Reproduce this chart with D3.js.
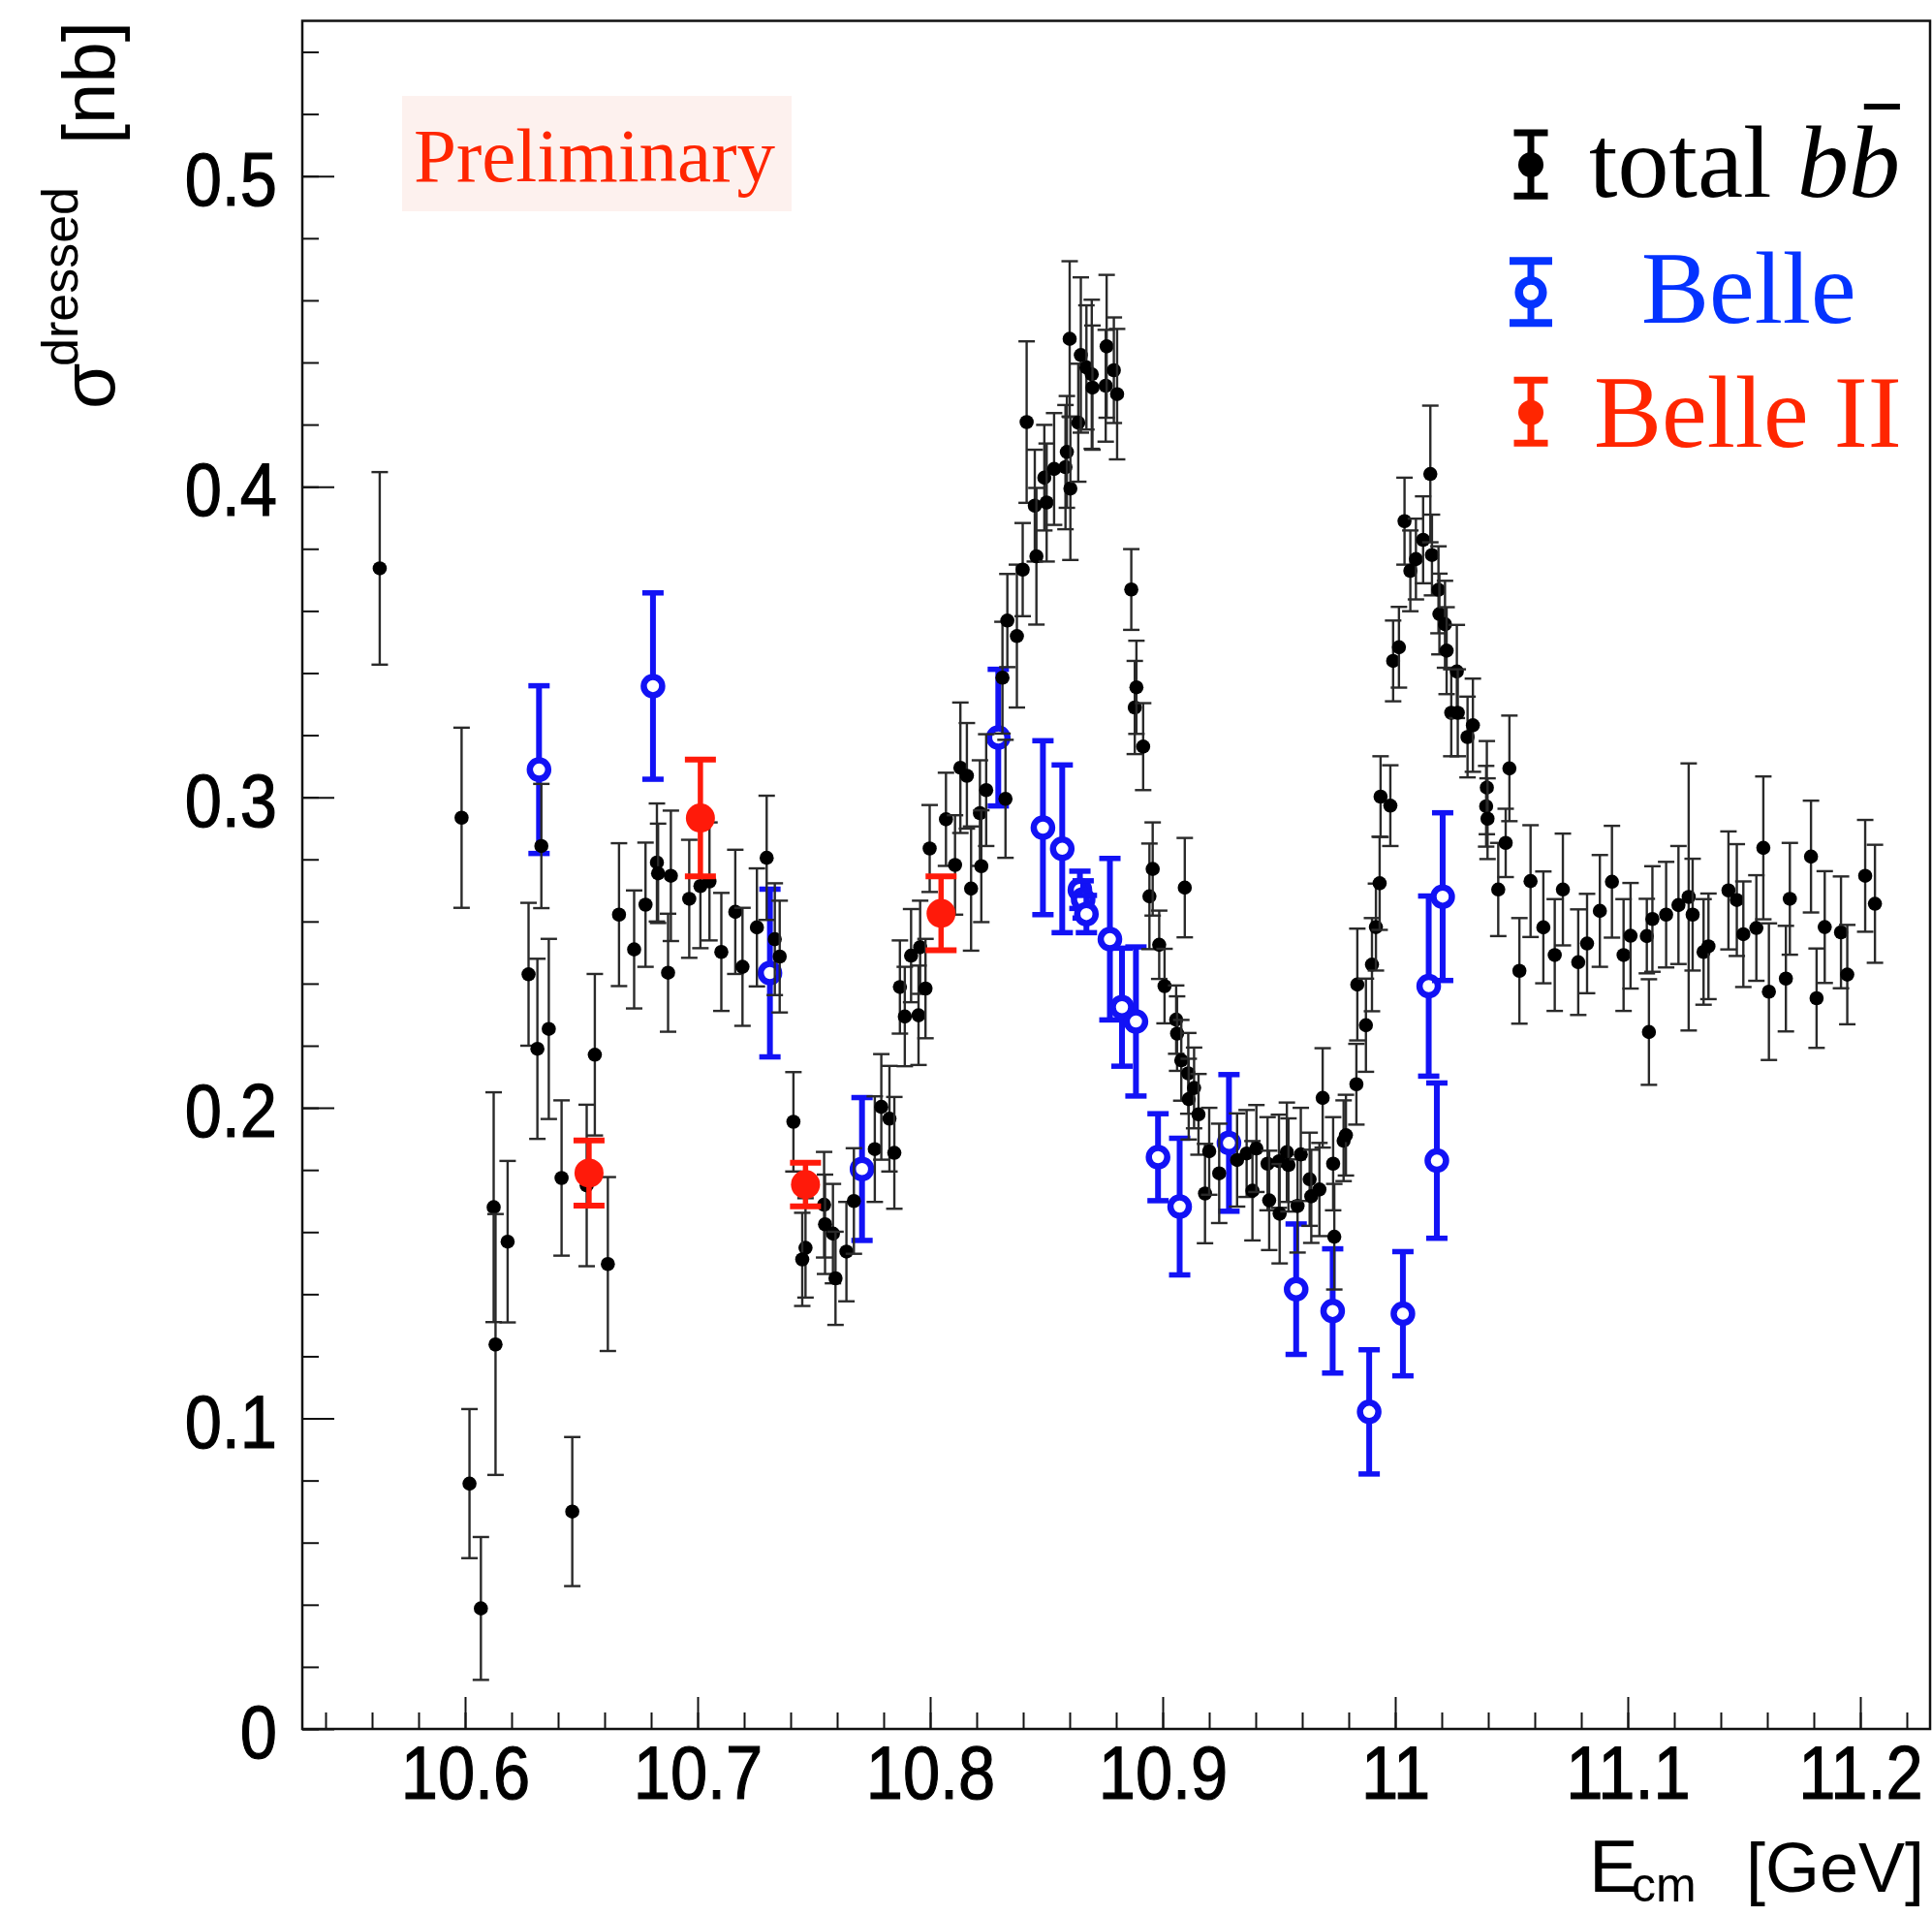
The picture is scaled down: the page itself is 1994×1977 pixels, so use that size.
<!DOCTYPE html>
<html>
<head>
<meta charset="utf-8">
<script src="https://cdn.jsdelivr.net/npm/d3@7"></script>
<style>
  html, body { margin: 0; padding: 0; background: #fff; }
  svg { display: block; }
</style>
</head>
<body>
<svg id="chart" width="1994" height="1977"></svg>
<script>
// [E_cm (GeV), sigma dressed (nb), error (nb)]
const totalBB = [
  [10.5633, 0.3737, 0.031], [10.5985, 0.2934, 0.029], [10.6019, 0.0790, 0.024], [10.6068, 0.0388, 0.023],
  [10.6123, 0.1680, 0.037], [10.6131, 0.1238, 0.042], [10.6183, 0.1569, 0.026], [10.6273, 0.2430, 0.023],
  [10.6311, 0.2190, 0.029], [10.6328, 0.2843, 0.020], [10.6360, 0.2254, 0.029], [10.6415, 0.1774, 0.025],
  [10.6461, 0.0700, 0.024], [10.6523, 0.1750, 0.026], [10.6558, 0.2171, 0.026], [10.6614, 0.1497, 0.028],
  [10.6662, 0.2622, 0.023], [10.6727, 0.2510, 0.019], [10.6776, 0.2654, 0.020], [10.6825, 0.2790, 0.019],
  [10.6830, 0.2755, 0.016], [10.6873, 0.2435, 0.019], [10.6885, 0.2747, 0.021], [10.6964, 0.2673, 0.019],
  [10.7012, 0.2714, 0.020], [10.7051, 0.2729, 0.019], [10.7102, 0.2502, 0.019], [10.7162, 0.2631, 0.020],
  [10.7193, 0.2454, 0.019], [10.7255, 0.2581, 0.019], [10.7297, 0.2805, 0.020], [10.7332, 0.2543, 0.018],
  [10.7353, 0.2487, 0.018], [10.7412, 0.1955, 0.016], [10.7464, 0.1549, 0.016], [10.7450, 0.1512, 0.015],
  [10.7544, 0.1688, 0.017], [10.7548, 0.1625, 0.016], [10.7582, 0.1595, 0.016], [10.7593, 0.1451, 0.015],
  [10.7640, 0.1537, 0.016], [10.7672, 0.1700, 0.017], [10.7762, 0.1867, 0.017], [10.7790, 0.2003, 0.017],
  [10.7825, 0.1965, 0.017], [10.7846, 0.1855, 0.018], [10.7870, 0.2389, 0.015], [10.7891, 0.2294, 0.016],
  [10.7918, 0.2490, 0.015], [10.7950, 0.2298, 0.016], [10.7957, 0.2517, 0.015], [10.7980, 0.2384, 0.016],
  [10.7998, 0.2835, 0.014], [10.8068, 0.2929, 0.015], [10.8107, 0.2782, 0.016], [10.8130, 0.3095, 0.021],
  [10.8158, 0.3069, 0.017], [10.8176, 0.2706, 0.020], [10.8214, 0.2949, 0.017], [10.8220, 0.2778, 0.018],
  [10.8241, 0.3023, 0.018], [10.8311, 0.3385, 0.018], [10.8324, 0.2995, 0.019], [10.8332, 0.3569, 0.015],
  [10.8373, 0.3519, 0.023], [10.8398, 0.3733, 0.015], [10.8415, 0.4208, 0.026], [10.8450, 0.3939, 0.018],
  [10.8457, 0.3776, 0.022], [10.8491, 0.4029, 0.017], [10.8501, 0.3949, 0.019], [10.8533, 0.4057, 0.018],
  [10.8582, 0.4063, 0.020], [10.8588, 0.4112, 0.018], [10.8600, 0.4476, 0.025], [10.8603, 0.3994, 0.023],
  [10.8637, 0.4206, 0.019], [10.8648, 0.4424, 0.025], [10.8672, 0.4384, 0.020], [10.8695, 0.4362, 0.024],
  [10.8698, 0.4319, 0.020], [10.8755, 0.4325, 0.018], [10.8759, 0.4452, 0.023], [10.8790, 0.4375, 0.017],
  [10.8804, 0.4298, 0.021], [10.8865, 0.3669, 0.013], [10.8880, 0.3289, 0.015], [10.8887, 0.3354, 0.015],
  [10.8916, 0.3163, 0.014], [10.8943, 0.2681, 0.017], [10.8957, 0.2769, 0.015], [10.8985, 0.2525, 0.011],
  [10.9008, 0.2392, 0.012], [10.9058, 0.2284, 0.011], [10.9062, 0.2239, 0.012], [10.9080, 0.2153, 0.013],
  [10.9095, 0.2709, 0.016], [10.9110, 0.2111, 0.013], [10.9112, 0.2028, 0.013], [10.9135, 0.2064, 0.013],
  [10.9154, 0.1979, 0.013], [10.9182, 0.1724, 0.016], [10.9200, 0.1860, 0.014], [10.9243, 0.1789, 0.016],
  [10.9320, 0.1832, 0.015], [10.9361, 0.1853, 0.014], [10.9386, 0.1733, 0.016], [10.9403, 0.1869, 0.014],
  [10.9451, 0.1820, 0.015], [10.9458, 0.1702, 0.016], [10.9500, 0.1828, 0.015], [10.9503, 0.1659, 0.016],
  [10.9534, 0.1857, 0.016], [10.9541, 0.1816, 0.015], [10.9580, 0.1684, 0.015], [10.9594, 0.1850, 0.015],
  [10.9632, 0.1770, 0.015], [10.9639, 0.1715, 0.015], [10.9674, 0.1737, 0.015], [10.9688, 0.2032, 0.016],
  [10.9733, 0.1820, 0.015], [10.9738, 0.1585, 0.017], [10.9778, 0.1894, 0.013], [10.9788, 0.1912, 0.013],
  [10.9833, 0.2076, 0.013], [10.9837, 0.2397, 0.018], [10.9874, 0.2266, 0.015], [10.9900, 0.2461, 0.015],
  [10.9917, 0.2582, 0.014], [10.9933, 0.2723, 0.015], [10.9937, 0.3002, 0.013], [10.9979, 0.2973, 0.013],
  [10.9991, 0.3439, 0.013], [11.0016, 0.3483, 0.013], [11.0040, 0.3889, 0.014], [11.0065, 0.3729, 0.013],
  [11.0089, 0.3767, 0.013], [11.0120, 0.3829, 0.014], [11.0151, 0.4041, 0.022], [11.0158, 0.3780, 0.013],
  [11.0186, 0.3668, 0.014], [11.0190, 0.3590, 0.013], [11.0214, 0.3557, 0.014], [11.0221, 0.3472, 0.014],
  [11.0241, 0.3272, 0.014], [11.0265, 0.3405, 0.015], [11.0269, 0.3272, 0.014], [11.0311, 0.3194, 0.013],
  [11.0334, 0.3232, 0.015], [11.0391, 0.2971, 0.013], [11.0394, 0.3031, 0.015], [11.0397, 0.2931, 0.013],
  [11.0443, 0.2703, 0.015], [11.0475, 0.2853, 0.011], [11.0491, 0.3093, 0.017], [11.0534, 0.2441, 0.017],
  [11.0582, 0.2730, 0.018], [11.0637, 0.2581, 0.018], [11.0686, 0.2492, 0.018], [11.0721, 0.2703, 0.018],
  [11.0787, 0.2469, 0.017], [11.0825, 0.2529, 0.016], [11.0880, 0.2634, 0.018], [11.0932, 0.2728, 0.018],
  [11.0982, 0.2492, 0.018], [11.1012, 0.2554, 0.017], [11.1082, 0.2553, 0.012], [11.1091, 0.2244, 0.017],
  [11.1106, 0.2608, 0.017], [11.1165, 0.2622, 0.017], [11.1218, 0.2653, 0.019], [11.1262, 0.2679, 0.043],
  [11.1279, 0.2622, 0.018], [11.1326, 0.2502, 0.017], [11.1347, 0.2520, 0.017], [11.1433, 0.2700, 0.019],
  [11.1469, 0.2669, 0.018], [11.1497, 0.2559, 0.017], [11.1553, 0.2579, 0.017], [11.1583, 0.2837, 0.023],
  [11.1607, 0.2374, 0.022], [11.1680, 0.2416, 0.017], [11.1697, 0.2673, 0.018], [11.1788, 0.2809, 0.018],
  [11.1812, 0.2353, 0.016], [11.1847, 0.2582, 0.018], [11.1917, 0.2565, 0.018], [11.1944, 0.2429, 0.016],
  [11.2021, 0.2747, 0.018], [11.2063, 0.2657, 0.019]
];

const belle = [
  [10.6318, 0.3089, 0.027], [10.6808, 0.3358, 0.030], [10.7311, 0.2434, 0.027], [10.7707, 0.1803, 0.023],
  [10.8293, 0.3192, 0.022], [10.8485, 0.2902, 0.028], [10.8568, 0.2834, 0.027], [10.8644, 0.2702, 0.006],
  [10.8658, 0.2671, 0.006], [10.8672, 0.2624, 0.006], [10.8773, 0.2543, 0.026], [10.8825, 0.2324, 0.019],
  [10.8885, 0.2278, 0.024], [10.8980, 0.1841, 0.014], [10.9073, 0.1682, 0.022], [10.9285, 0.1887, 0.022],
  [10.9574, 0.1416, 0.021], [10.9731, 0.1346, 0.020], [10.9888, 0.1021, 0.020], [11.0033, 0.1337, 0.020],
  [11.0144, 0.2392, 0.029], [11.0179, 0.1830, 0.025], [11.0204, 0.2680, 0.027]
];

const belle2 = [
  [10.6533, 0.1790, 0.0105], [10.7012, 0.2933, 0.0188], [10.7464, 0.1753, 0.0070], [10.8047, 0.2626, 0.0119]
];

const xTicks = [10.6, 10.7, 10.8, 10.9, 11, 11.1, 11.2];
const yTicks = [0, 0.1, 0.2, 0.3, 0.4, 0.5];
const legendLabels = ["Belle", "Belle II"];

const W = 1994, H = 1977;
const frame = { left: 312, right: 1992, top: 21.5, bottom: 1784 };

const x = d3.scaleLinear().domain([10.53, 11.23]).range([frame.left, frame.right]);
const y = d3.scaleLinear().domain([0, 0.55]).range([frame.bottom, frame.top]);

const svg = d3.select("#chart");
svg.append("rect").attr("width", W).attr("height", H).attr("fill", "#fff");

const sans = '"Liberation Sans", Arial, Helvetica, sans-serif';
const serif = '"Liberation Serif", "Times New Roman", Times, serif';

// Preliminary tag
svg.append("rect")
  .attr("x", 415).attr("y", 99).attr("width", 402).attr("height", 119)
  .attr("fill", "#fdf1ee");
svg.append("text")
  .attr("x", 427).attr("y", 187)
  .style("font-family", serif).style("font-size", "79px")
  .attr("fill", "#ff2600")
  .text("Preliminary");

// minor ticks
const xMinor = d3.range(10.54, 11.225, 0.02);
const yMinor = d3.range(0, 0.545, 0.02);

svg.append("g")
  .attr("transform", `translate(0,${frame.bottom})`)
  .call(d3.axisBottom(x).tickValues(xMinor).tickSizeInner(-17).tickSizeOuter(0).tickFormat(""))
  .call(g => g.select(".domain").remove())
  .call(g => g.selectAll("line").attr("stroke", "#111").attr("stroke-width", 2));

svg.append("g")
  .attr("transform", `translate(${frame.left},0)`)
  .call(d3.axisLeft(y).tickValues(yMinor).tickSizeInner(-17).tickSizeOuter(0).tickFormat(""))
  .call(g => g.select(".domain").remove())
  .call(g => g.selectAll("line").attr("stroke", "#111").attr("stroke-width", 2));

// major ticks + labels
svg.append("g")
  .attr("transform", `translate(0,${frame.bottom})`)
  .call(d3.axisBottom(x).tickValues(xTicks).tickSizeInner(-33).tickSizeOuter(0)
    .tickPadding(16.5).tickFormat(d3.format("")))
  .call(g => g.select(".domain").remove())
  .call(g => g.selectAll("line").attr("stroke", "#111").attr("stroke-width", 2))
  .call(g => g.selectAll("text")
    .attr("fill", "#000").attr("stroke", "#000").attr("stroke-width", 1.2)
    .attr("transform", "scale(0.88,1)")
    .style("font-family", sans).style("font-size", "78px"));

svg.append("g")
  .attr("transform", `translate(${frame.left},0)`)
  .call(d3.axisLeft(y).tickValues(yTicks).tickSizeInner(-33).tickSizeOuter(0)
    .tickPadding(29.5).tickFormat(d3.format("")))
  .call(g => g.select(".domain").remove())
  .call(g => g.selectAll("line").attr("stroke", "#111").attr("stroke-width", 2))
  .call(g => g.selectAll("text")
    .attr("fill", "#000").attr("stroke", "#000").attr("stroke-width", 1.2)
    .attr("dy", "0.38em")
    .attr("transform", "scale(0.88,1)")
    .style("font-family", sans).style("font-size", "78px"));

// frame
svg.append("rect")
  .attr("x", frame.left).attr("y", frame.top)
  .attr("width", frame.right - frame.left).attr("height", frame.bottom - frame.top)
  .attr("fill", "none").attr("stroke", "#111").attr("stroke-width", 2.5);

// data series with error bars
function drawSeries(data, opt) {
  const g = svg.append("g");
  const pt = g.selectAll("g").data(data).join("g");
  pt.append("line")
    .attr("x1", d => x(d[0])).attr("x2", d => x(d[0]))
    .attr("y1", d => y(d[1] + d[2])).attr("y2", d => y(d[1] - d[2]))
    .attr("stroke", opt.barColor).attr("stroke-width", opt.barWidth);
  [1, -1].forEach(s => {
    pt.append("line")
      .attr("x1", d => x(d[0]) - opt.cap).attr("x2", d => x(d[0]) + opt.cap)
      .attr("y1", d => y(d[1] + s * d[2])).attr("y2", d => y(d[1] + s * d[2]))
      .attr("stroke", opt.barColor).attr("stroke-width", opt.capWidth);
  });
  pt.append("circle")
    .attr("cx", d => x(d[0])).attr("cy", d => y(d[1]))
    .attr("r", opt.r)
    .attr("fill", opt.fill)
    .attr("stroke", opt.stroke || "none")
    .attr("stroke-width", opt.strokeWidth || 0);
}

drawSeries(belle, { barColor: "#1212f5", barWidth: 6, cap: 11, capWidth: 5.5,
  r: 9.5, fill: "#fff", stroke: "#1212f5", strokeWidth: 6.5 });
drawSeries(totalBB, { barColor: "#2a2a2a", barWidth: 2.4, cap: 8.5, capWidth: 2.4,
  r: 7.3, fill: "#000" });
drawSeries(belle2, { barColor: "#ff1a0a", barWidth: 5.5, cap: 16, capWidth: 6,
  r: 15, fill: "#ff1a0a" });

// axis titles
const xt = svg.append("text")
  .style("font-family", sans).attr("fill", "#000");
xt.append("tspan").attr("x", 1640).attr("y", 1952).style("font-size", "76px").text("E");
xt.append("tspan").attr("x", 1684).attr("y", 1962).style("font-size", "50px").text("cm");
xt.append("tspan").attr("x", 1802).attr("y", 1952).style("font-size", "72px").text("[GeV]");

const yt = svg.append("text")
  .attr("transform", "translate(118,422) rotate(-90)")
  .style("font-family", sans).attr("fill", "#000");
yt.append("tspan").attr("x", 0).attr("y", 0).style("font-size", "77px").text("σ");
yt.append("tspan").attr("x", 44).attr("y", -38).style("font-size", "52px").text("dressed");
yt.append("tspan").attr("x", 273).attr("y", 0).style("font-size", "76px").text("[nb]");

// legend
function legendMarker(cx, cy, top, bottom, half, color, open) {
  const g = svg.append("g");
  g.append("line").attr("x1", cx).attr("x2", cx).attr("y1", top).attr("y2", bottom)
    .attr("stroke", color).attr("stroke-width", 7);
  [top, bottom].forEach(v => g.append("line")
    .attr("x1", cx - half).attr("x2", cx + half).attr("y1", v).attr("y2", v)
    .attr("stroke", color).attr("stroke-width", open ? 8 : 7));
  if (open) {
    g.append("circle").attr("cx", cx).attr("cy", cy).attr("r", 12.3)
      .attr("fill", "#fff").attr("stroke", color).attr("stroke-width", 8.5);
  } else {
    g.append("circle").attr("cx", cx).attr("cy", cy).attr("r", 13).attr("fill", color);
  }
}
legendMarker(1580, 170, 137, 202.3, 17.5, "#000", false);
legendMarker(1580, 301.7, 269.3, 333.3, 22, "#0433ff", true);
legendMarker(1580, 425.7, 392.3, 457.3, 17.5, "#ff2600", false);

const lt = svg.append("text")
  .attr("x", 1640).attr("y", 203.3)
  .style("font-family", serif).style("font-size", "106px").attr("fill", "#000");
lt.append("tspan").text("total ");
lt.append("tspan").style("font-style", "italic").text("bb");

svg.append("text")
  .attr("x", 1694).attr("y", 333.3)
  .style("font-family", serif).style("font-size", "105px").attr("fill", "#0433ff")
  .text(legendLabels[0]);
svg.append("text")
  .attr("x", 1645).attr("y", 460.7)
  .style("font-family", serif).style("font-size", "105px").attr("fill", "#ff2600")
  .text(legendLabels[1]);

// bar over the second b
const node = lt.node();
const n = node.getNumberOfChars();
const ext = node.getExtentOfChar(n - 1);
svg.append("line")
  .attr("x1", ext.x + ext.width * 0.3).attr("x2", ext.x + ext.width * 1.0)
  .attr("y1", 110).attr("y2", 110)
  .attr("stroke", "#000").attr("stroke-width", 6);
</script>
</body>
</html>
